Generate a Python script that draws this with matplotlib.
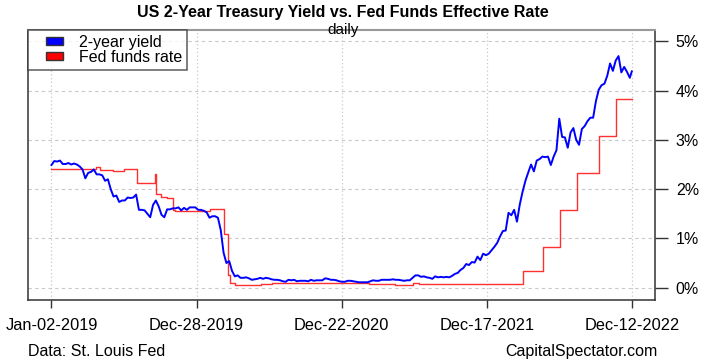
import matplotlib
matplotlib.use("Agg")
import matplotlib.pyplot as plt
from matplotlib.patches import Patch, Rectangle
from matplotlib.legend_handler import HandlerPatch
import pandas as pd

plt.rcParams['font.family'] = ['Liberation Sans', 'DejaVu Sans']

## Data
# 2-year Treasury yield, one reading per week (Wednesdays), plus the last day
yield_start = "2019-01-02"
yield_last_day = "2022-12-12"
yield_2019 = [2.49, 2.57, 2.56, 2.58, 2.51, 2.51, 2.53, 2.50, 2.52, 2.50, 2.46, 2.40, 2.22,
              2.33, 2.35, 2.40, 2.30, 2.30, 2.28, 2.17, 2.20, 2.00, 1.85, 1.87, 1.74, 1.77,
              1.77, 1.83, 1.82, 1.83, 1.89, 1.58, 1.58, 1.57, 1.50, 1.43, 1.68, 1.77, 1.65,
              1.48, 1.43, 1.59, 1.59, 1.61, 1.61, 1.63, 1.57, 1.62, 1.58, 1.63, 1.63, 1.63]
yield_2020 = [1.58, 1.58, 1.56, 1.53, 1.42, 1.45, 1.45, 1.42, 1.17, 0.71, 0.50, 0.54, 0.34,
              0.23, 0.25, 0.20, 0.20, 0.21, 0.19, 0.16, 0.17, 0.18, 0.20, 0.18, 0.20, 0.19,
              0.17, 0.16, 0.16, 0.15, 0.13, 0.12, 0.16, 0.15, 0.16, 0.13, 0.14, 0.14, 0.14,
              0.13, 0.16, 0.14, 0.15, 0.15, 0.15, 0.19, 0.18, 0.16, 0.16, 0.15, 0.13, 0.12, 0.12]
yield_2021 = [0.14, 0.14, 0.13, 0.12, 0.11, 0.11, 0.11, 0.11, 0.13, 0.15, 0.14, 0.14, 0.16,
              0.16, 0.16, 0.16, 0.17, 0.16, 0.16, 0.15, 0.14, 0.15, 0.15, 0.20, 0.25, 0.25,
              0.22, 0.23, 0.21, 0.20, 0.18, 0.23, 0.21, 0.22, 0.21, 0.22, 0.21, 0.24, 0.28,
              0.30, 0.36, 0.40, 0.48, 0.46, 0.52, 0.51, 0.63, 0.56, 0.69, 0.66, 0.69, 0.76]
yield_2022 = [0.83, 0.91, 1.04, 1.15, 1.16, 1.52, 1.47, 1.58, 1.34, 1.69, 1.95, 2.17, 2.34,
              2.50, 2.36, 2.58, 2.61, 2.66, 2.65, 2.66, 2.49, 2.66, 2.79, 3.43, 3.06, 3.05,
              2.84, 3.15, 3.24, 3.00, 2.90, 3.22, 3.28, 3.38, 3.45, 3.45, 3.79, 4.02, 4.11,
              4.14, 4.30, 4.55, 4.40, 4.61, 4.70, 4.37, 4.48, 4.38, 4.26]
yield_last = 4.39

# Fed funds effective rate, level from each change date on
ff_dates = ["2019-01-02", "2019-04-22", "2019-05-02", "2019-06-03", "2019-07-01",
            "2019-08-01", "2019-09-16", "2019-09-17", "2019-09-18", "2019-09-19",
            "2019-10-01", "2019-10-15", "2019-10-31", "2019-11-04", "2020-01-30",
            "2020-03-04", "2020-03-16", "2020-03-20", "2020-04-01", "2020-06-05",
            "2020-07-01", "2021-03-01", "2021-05-03", "2021-06-17", "2021-07-01",
            "2022-03-17", "2022-05-05", "2022-06-16", "2022-07-28", "2022-09-22",
            "2022-11-03", "2022-12-12"]
ff_rate = [2.40, 2.44, 2.38, 2.37, 2.40,
           2.13, 2.25, 2.30, 2.25, 1.90,
           1.85, 1.83, 1.58, 1.55, 1.59,
           1.09, 0.25, 0.10, 0.05, 0.08,
           0.09, 0.07, 0.06, 0.10, 0.08,
           0.33, 0.83, 1.58, 2.33, 3.08,
           3.83, 3.83]

tick_dates = ["2019-01-02", "2019-12-28", "2020-12-22", "2021-12-17", "2022-12-12"]
pct_ticks = [0, 1, 2, 3, 4, 5]

## Build series
yld = yield_2019 + yield_2020 + yield_2021 + yield_2022
yld_dates = list(pd.date_range(yield_start, periods=len(yld), freq="7D"))
yld_dates.append(pd.Timestamp(yield_last_day))
yld.append(yield_last)
ff_dates = pd.to_datetime(ff_dates)
tick_dates = pd.to_datetime(tick_dates)


# legend box: small filled rectangle sitting in the right part of the handle area
def swatch(legend, orig_handle, xdescent, ydescent, width, height, fontsize):
    return Rectangle((width * 0.42 - xdescent, -ydescent + height * 0.1),
                     width * 0.58, height * 0.8)


## Plot
fig = plt.figure(figsize=(7.12, 3.64), dpi=100)
ax = fig.add_axes([0.0397, 0.1758, 0.8803, 0.7418])

ax.plot(yld_dates, yld, color="#0000FF", lw=1.4, zorder=3)
ax.step(ff_dates, ff_rate, where="post", color="#FF3030", lw=1.0, zorder=2)

first, last = pd.Timestamp(yield_start), pd.Timestamp(yield_last_day)
pad = (last - first) * 0.04
ax.set_xlim(first - pad, last + pad)
ax.set_ylim(-0.25, 5.23)

ax.set_xticks(tick_dates)
ax.set_xticklabels([d.strftime("%b-%d-%Y") for d in tick_dates], fontsize=11.8)
ax.yaxis.tick_right()
ax.set_yticks(pct_ticks)
ax.set_yticklabels([f"{p}%" for p in pct_ticks], fontsize=11.5)
ax.tick_params(axis="y", length=9, width=1, color="#333333", pad=6)
ax.tick_params(axis="x", length=6, width=1, color="#333333", pad=7)

ax.grid(axis="y", ls=(0, (3, 3)), color="#C8C8C8", lw=0.8)
ax.grid(axis="x", ls=(0, (1, 2)), color="#C8C8C8", lw=0.9)
ax.set_axisbelow(True)

for side in ["left", "right", "bottom"]:
    ax.spines[side].set_color("#333333")
    ax.spines[side].set_linewidth(1.1)
ax.spines["top"].set_color("#999999")
ax.spines["top"].set_linewidth(1.5)

handles = [Patch(facecolor="#0000FF", edgecolor="#333333", label="2-year yield"),
           Patch(facecolor="#FF0000", edgecolor="#333333", label="Fed funds rate")]
leg = ax.legend(handles=handles, loc="upper left", bbox_to_anchor=(0, 1), borderaxespad=0,
                fontsize=11.5, frameon=True, fancybox=False, handlelength=1.9, handleheight=0.55,
                labelspacing=0.0, borderpad=0.3, handletextpad=1.0,
                handler_map={Patch: HandlerPatch(patch_func=swatch)})
leg.get_frame().set_edgecolor("#333333")
leg.get_frame().set_linewidth(1.1)

fig.text(0.482, 0.967, "US 2-Year Treasury Yield vs. Fed Funds Effective Rate",
         ha="center", va="center", fontsize=11.5, fontweight="bold")
fig.text(0.482, 0.918, "daily", ha="center", va="center", fontsize=11)
fig.text(0.04, 0.033, "Data: St. Louis Fed", ha="left", va="center", fontsize=11.5)
fig.text(0.924, 0.033, "CapitalSpectator.com", ha="right", va="center", fontsize=11.5)

fig.savefig("out.png", dpi=100)
